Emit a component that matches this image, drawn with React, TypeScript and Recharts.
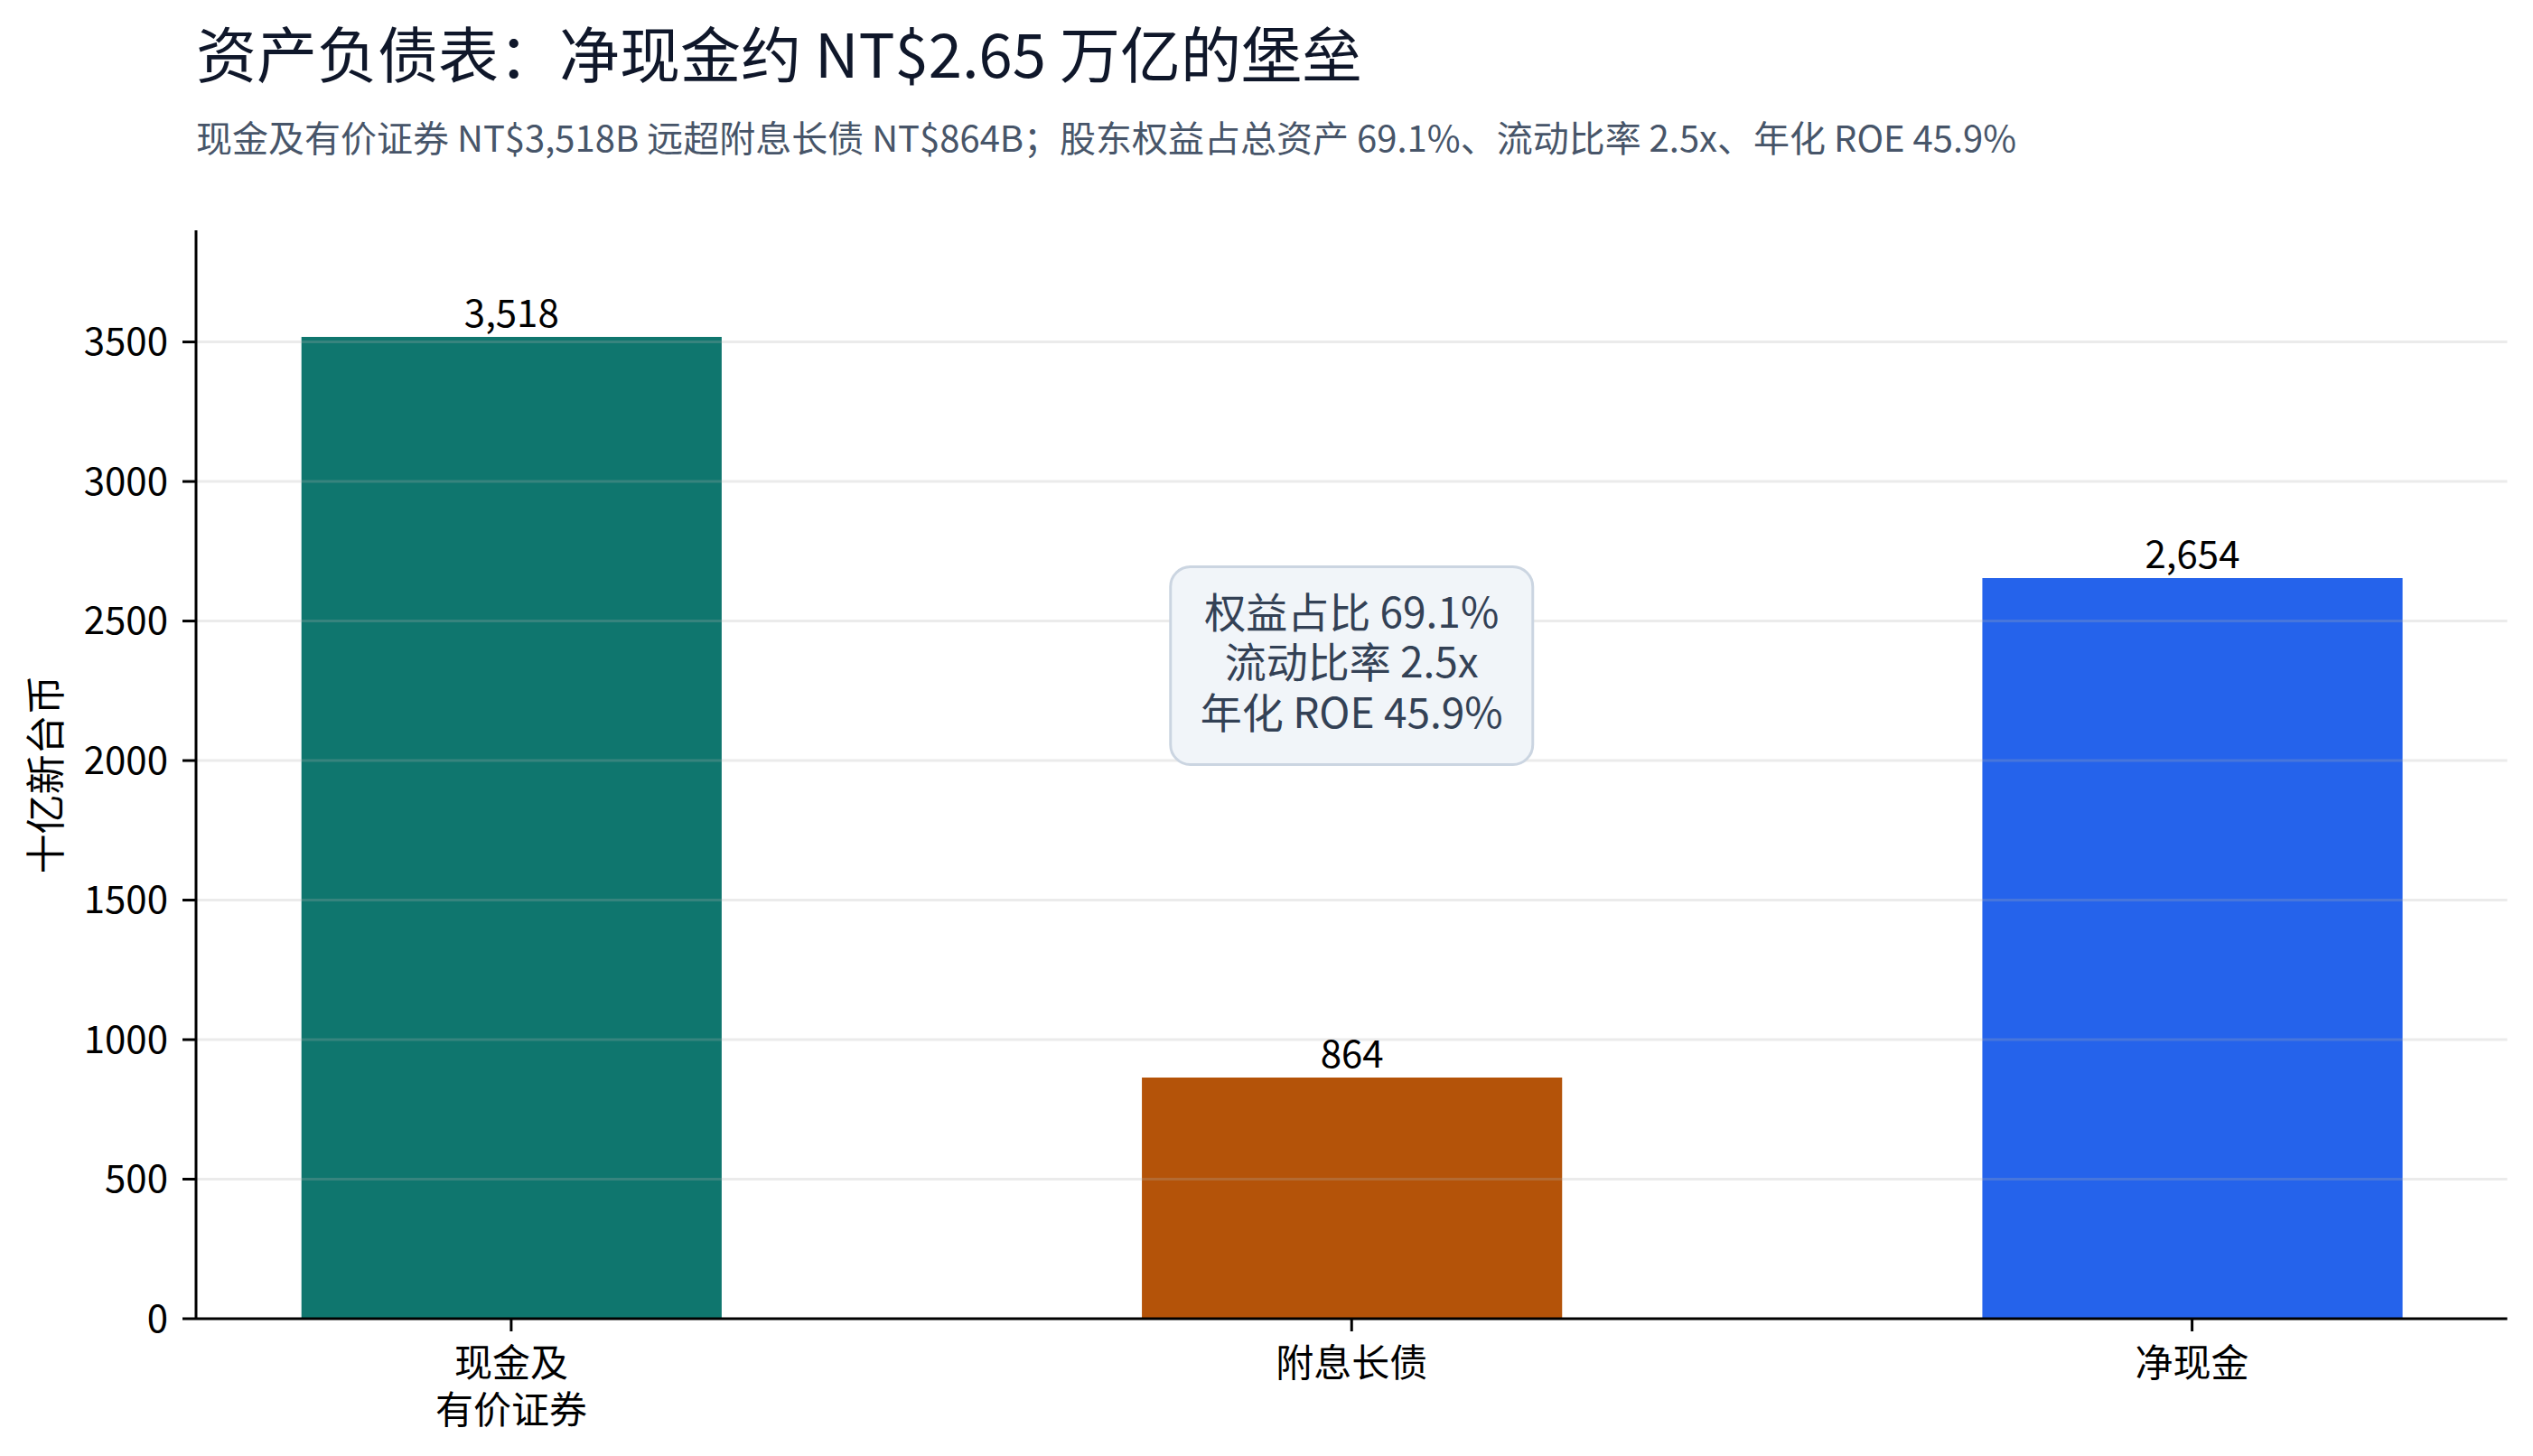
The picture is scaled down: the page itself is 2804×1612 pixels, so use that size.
import React from 'react';
import { BarChart, Bar, XAxis, YAxis, Cell, LabelList, ReferenceLine, ReferenceDot } from 'recharts';

const FONT = "'Noto Sans CJK SC', 'Noto Sans', sans-serif";

const TITLE = '资产负债表：净现金约 NT$2.65 万亿的堡垒';
const SUBTITLE = '现金及有价证券 NT$3,518B 远超附息长债 NT$864B；股东权益占总资产 69.1%、流动比率 2.5x、年化 ROE 45.9%';
const Y_LABEL = '十亿新台币';

const CATEGORIES = ['现金及\n有价证券', '附息长债', '净现金'];
const VALUES = [3518, 864, 2654];
const COLORS = ['#0f766e', '#b45309', '#2563eb'];
const Y_TICKS = [0, 500, 1000, 1500, 2000, 2500, 3000, 3500];
const Y_MAX = 3900;

const NOTE_LINES = ['权益占比 69.1%', '流动比率 2.5x', '年化 ROE 45.9%'];
const NOTE_X = 1;
const NOTE_Y = 2340;

const data = VALUES.map((v, i) => ({ idx: i, name: CATEGORIES[i], value: v }));

const W = 2804;
const H = 1612;
const Y_AXIS_W = 217;
const X_AXIS_H = 152;
const TOP = 255;
const RIGHT = 28.5;
const X_DOMAIN: [number, number] = [-0.375, 2.375];
const plotW = W - Y_AXIS_W - RIGHT;
// bars take half of each category slot
const barSize = (plotW / (X_DOMAIN[1] - X_DOMAIN[0])) * 0.5;

function XTick({ x, y, payload }: any) {
  const lines = CATEGORIES[payload.value].split('\n');
  return (
    <text x={x} y={y} textAnchor="middle" fontSize={42} fontFamily={FONT} fill="#000">
      {lines.map((l, i) => (
        <tspan key={i} x={x} dy={i === 0 ? 50 : 52}>{l}</tspan>
      ))}
    </text>
  );
}

function YLabel({ viewBox }: any) {
  const cx = viewBox.x + 48;
  const cy = viewBox.y + viewBox.height / 2;
  return (
    <text x={cx} y={cy} transform={`rotate(-90 ${cx} ${cy})`} textAnchor="middle" dominantBaseline="central"
      fontSize={44} fontFamily={FONT} fill="#000">
      {Y_LABEL}
    </text>
  );
}

function NoteBox({ cx, cy }: any) {
  const bw = 401;
  const bh = 219;
  const lh = 55.5;
  return (
    <g>
      <rect x={cx - bw / 2} y={cy - bh / 2} width={bw} height={bh} rx={22} ry={22}
        fill="#f1f5f9" stroke="#cbd5e1" strokeWidth={3} />
      <text x={cx} y={cy - 3 - lh + 16} textAnchor="middle" fontSize={46} fontFamily={FONT} fill="#334155">
        {NOTE_LINES.map((t, i) => (
          <tspan key={i} x={cx} dy={i === 0 ? 0 : lh}>{t}</tspan>
        ))}
      </text>
    </g>
  );
}

export default function App() {
  return (
    <div style={{ position: 'absolute', left: 0, top: 0, width: W, height: H, background: '#fff' }}>
      <svg width={W} height={H} style={{ position: 'absolute', left: 0, top: 0 }}>
        <text x={217} y={86} fontSize={67} fontFamily={FONT} fill="#0f172a">{TITLE}</text>
        <text x={217} y={168} fontSize={40} fontFamily={FONT} fill="#475569">{SUBTITLE}</text>
      </svg>
      <div style={{ position: 'absolute', left: 0, top: 0 }}>
        <BarChart width={W} height={H} data={data} margin={{ top: TOP, right: RIGHT, bottom: 0, left: 0 }}>
          <XAxis
            type="number"
            dataKey="idx"
            domain={X_DOMAIN}
            ticks={[0, 1, 2]}
            allowDataOverflow
            height={X_AXIS_H}
            tickSize={14}
            tickMargin={0}
            tick={<XTick />}
            axisLine={{ stroke: '#000', strokeWidth: 3 }}
            tickLine={{ stroke: '#000', strokeWidth: 3 }}
          />
          <YAxis
            type="number"
            domain={[0, Y_MAX]}
            ticks={Y_TICKS}
            allowDataOverflow
            width={Y_AXIS_W}
            tickSize={15}
            tickMargin={16}
            tick={{ fill: '#000', fontSize: 42, fontFamily: FONT }}
            axisLine={{ stroke: '#000', strokeWidth: 3 }}
            tickLine={{ stroke: '#000', strokeWidth: 3 }}
            label={{ content: YLabel }}
          />
          <Bar dataKey="value" barSize={barSize} isAnimationActive={false}>
            {data.map((d, i) => (
              <Cell key={d.idx} fill={COLORS[i]} />
            ))}
            <LabelList dataKey="value" position="top" offset={11} fontSize={42} fontFamily={FONT} fill="#000"
              formatter={(v: any) => Number(v).toLocaleString('en-US')} />
          </Bar>
          {Y_TICKS.filter((t) => t > 0).map((t) => (
            <ReferenceLine key={t} y={t} stroke="#b0b0b0" strokeOpacity={0.25} strokeWidth={3} />
          ))}
          <ReferenceDot x={NOTE_X} y={NOTE_Y} r={1} shape={(p: any) => <NoteBox cx={p.cx} cy={p.cy} />} />
        </BarChart>
      </div>
    </div>
  );
}
